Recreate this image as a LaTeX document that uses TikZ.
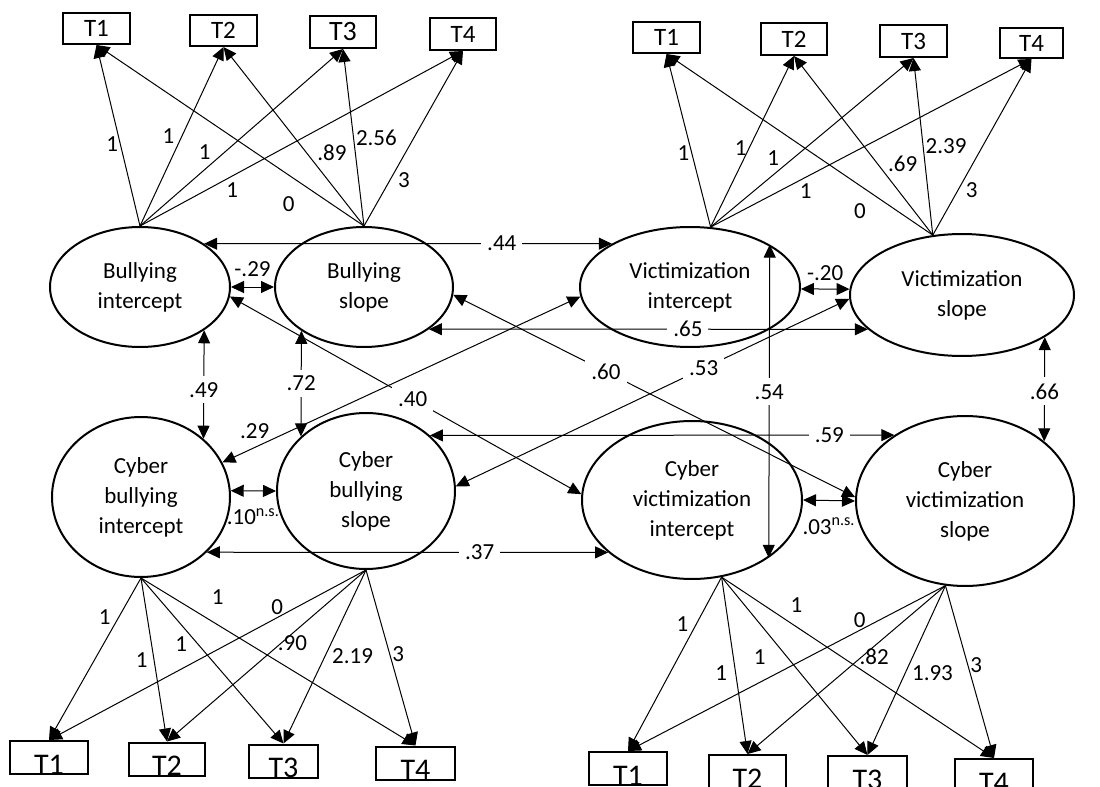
\documentclass[tikz,border=0pt]{standalone}
\usepackage{fontspec}
\setmainfont{Carlito}
\usetikzlibrary{arrows.meta,shapes.geometric}

\begin{document}
\begin{tikzpicture}[x=0.5pt, y=-0.5pt, every node/.style={font=\fontsize{11.5}{15}\selectfont}, latent/.style={ellipse, draw, line width=1pt, inner sep=1pt, align=center}, obs/.style={rectangle, draw, line width=1pt, inner sep=0pt, minimum width=33.5pt, minimum height=15.5pt, font=\fontsize{12.5}{13}\selectfont}, obsb/.style={rectangle, draw, line width=1pt, inner sep=0pt, text height=16.5pt, text depth=-1pt, font=\fontsize{15}{17}\selectfont}, load/.style={-{Triangle[length=6.5pt, width=6pt]}, line width=0.5pt}, cov/.style={{Triangle[length=6.5pt, width=6pt]}-{Triangle[length=6.5pt, width=6pt]}, line width=0.5pt}, est/.style={inner sep=1pt}, gapped/.style={fill=white, inner sep=3pt}]
	\useasboundingbox (0,0) rectangle (1100,787);
		\node[latent, minimum width=90pt, minimum height=60pt] (bi) at (140,287) {Bullying\\intercept};
		\node[latent, minimum width=89pt, minimum height=60pt] (bs) at (364,287) {Bullying\\slope};
		\node[latent, minimum width=110pt, minimum height=60pt] (vi) at (690,287) {Victimization\\intercept};
		\node[latent, minimum width=112pt, minimum height=61pt] (vs) at (962,295) {Victimization\\slope};
		\node[latent, minimum width=89pt, minimum height=80pt] (cbi) at (141,497) {Cyber\\bullying\\intercept};
		\node[latent, minimum width=89pt, minimum height=78pt] (cbs) at (366,491) {Cyber\\bullying\\slope};
		\node[latent, minimum width=110pt, minimum height=79pt] (cvi) at (692,500) {Cyber\\victimization\\intercept};
		\node[latent, minimum width=109pt, minimum height=85pt] (cvs) at (965,501) {Cyber\\victimization\\slope};
		\node[obs] (b1) at (96.5,28.5) {T1};
		\node[obs] (b2) at (223.5,30.5) {T2};
		\node[obs, minimum width=33pt, minimum height=16pt, font=\fontsize{14}{15}\selectfont] (b3) at (343,32) {T3};
		\node[obs, minimum width=33pt, minimum height=16pt] (b4) at (463,34) {T4};
		\node[obs] (v1) at (666.5,37.5) {T1};
		\node[obs, minimum width=33pt, minimum height=16pt] (v2) at (794,39) {T2};
		\node[obs, minimum height=16pt] (v3) at (913.5,41) {T3};
		\node[obs, minimum width=31.5pt, minimum height=15pt] (v4) at (1031.5,43) {T4};
		\node[obsb, minimum width=39pt] (cb1) at (49,757.5) {T1};
		\node[obsb, minimum width=38pt] (cb2) at (167,759) {T2};
		\node[obsb, minimum width=34.5pt] (cb3) at (283.5,761) {T3};
		\node[obsb, minimum width=39.5pt] (cb4) at (415.5,763) {T4};
		\node[obsb, minimum width=39pt] (cv1) at (628,768.5) {T1};
		\node[obsb, minimum width=38.5pt] (cv2) at (747.5,771.5) {T2};
		\node[obsb, minimum width=39.5pt] (cv3) at (867.5,772.5) {T3};
		\node[obsb, minimum width=39pt] (cv4) at (994,775.5) {T4};
		\draw[load] (bi.north) -- node[est, pos=.45, left] {1} (b1.south);
		\draw[load] (bi.north) -- node[est, pos=.5, left=2.5pt] {1} (b2.south);
		\draw[load] (bi.north) -- node[est, pos=.36, above left] {1} (b3.south);
		\draw[load] (bi.north) -- node[est, pos=.26, below right] {1} (b4.south);
		\draw[load] (bs.north) -- node[est, pos=.22, below left=4pt] {0} (b1.south);
		\draw[load] (bs.north) -- node[est, pos=.35, above right] {.89} (b2.south);
		\draw[load] (bs.north) -- node[est, pos=.5, right] {2.56} (b3.south);
		\draw[load] (bs.north) -- node[est, pos=.32, below right] {3} (b4.south);
		\draw[load] (vi.71) -- node[est, pos=.43, left] {1} (v1.south);
		\draw[load] (vi.71) -- node[est, pos=.46, left] {1} (v2.south);
		\draw[load] (vi.71) -- node[est, pos=.35, above left] {1} (v3.south);
		\draw[load] (vi.71) -- node[est, pos=.27, below right] {1} (v4.south);
		\draw[load] (vs.116) -- node[est, pos=.22, below left=3pt] {0} (v1.south);
		\draw[load] (vs.116) -- node[est, pos=.34, above right] {.69} (v2.south);
		\draw[load] (vs.116) -- node[est, pos=.5, right] {2.39} (v3.south);
		\draw[load] (vs.116) -- node[est, pos=.31, below right] {3} (v4.south);
		\draw[load] (cbi.south) -- node[est, pos=.24, left=3pt] {1} (cb1.north);
		\draw[load] (cbi.south) -- node[est, pos=.5, left=2pt] {1} (cb2.north);
		\draw[load] (cbi.south) -- node[est, pos=.34, below left] {1} (cb3.north);
		\draw[load] (cbi.south) -- node[est, pos=.22, above right=4pt] {1} (cb4.north);
		\draw[load] (cbs.south) -- node[est, pos=.28, above] {0} (cb1.north);
		\draw[load] (cbs.south) -- node[est, pos=.37, below] {.90} (cb2.north);
		\draw[load] (cbs.south) -- node[est, pos=.44, below right] {2.19} (cb3.north);
		\draw[load] (cbs.south) -- node[est, pos=.48, right] {3} (cb4.north);
		\draw[load] (cvi.-69) -- node[est, pos=.33, above left] {1} (cv1.north);
		\draw[load] (cvi.-69) -- node[est, pos=.54, left=3pt] {1} (cv2.north);
		\draw[load] (cvi.-69) -- node[est, pos=.36, below left=3pt] {1} (cv3.north);
		\draw[load] (cvi.-69) -- node[est, pos=.23, above right=2pt] {1} (cv4.north);
		\draw[load] (cvs.-103) -- node[est, pos=.27, above] {0} (cv1.north);
		\draw[load] (cvs.-103) -- node[est, pos=.36, below] {.82} (cv2.north);
		\draw[load] (cvs.-103) -- node[est, pos=.46, below right] {1.93} (cv3.north);
		\draw[load] (cvs.-103) -- node[est, pos=.46, right] {3} (cv4.north);
		\draw[cov] (bi.34) -- node[gapped, pos=.73] {.44} (vi.151);
		\draw[cov] (bi.east) -- node[est, above=4pt] {-.29} (bs.west);
		\draw[cov] (bs.-33) -- node[gapped, pos=.59] {.65} (vs.200);
		\draw[cov] (bi.-6) -- node[gapped, pos=.52] {.40} (cvi.177);
		\draw[cov] (bs.-5) -- node[gapped, pos=.38] {.60} (cvs.178);
		\draw[cov] (cbs.3) -- node[gapped, pos=.63] {.53} (vs.182);
		\draw[cov] (cbi.23) -- node[est, pos=.09, above=3pt] {.29} (vi.185);
		\draw[cov] (bi.-34) -- node[gapped, pos=.55] {.49} (cbi.43);
		\draw[cov] (bs.-145) -- node[gapped, pos=.5] {.72} (cbs.140);
		\draw[cov] (cbi.4) -- node[est, below=7.5pt] {.10\textsuperscript{n.s.}} (cbs.west);
		\draw[cov] (cbi.-40) -- node[gapped, pos=.68] {.37} (cvi.-148);
		\draw[cov] (cbs.41) -- node[gapped, pos=.86] {.59} (cvs.137);
		\draw[cov] (vi.-1) -- node[est, above=3pt] {-.20} (vs.177);
		\draw[cov] (vs.-27) -- node[gapped, pos=.52] {.66} (cvs.37);
		\draw[cov] (cvi.east) -- node[est, below=7.5pt] {.03\textsuperscript{n.s.}} (cvs.west);
		\draw[cov] (vi.28) -- node[gapped, pos=.47] {.54} (cvi.-37);
\end{tikzpicture}
\end{document}
